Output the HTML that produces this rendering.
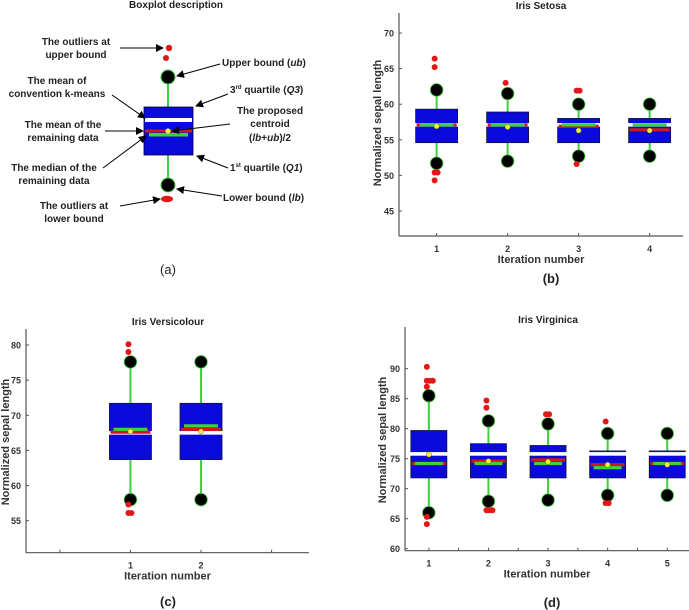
<!DOCTYPE html>
<html><head><meta charset="utf-8">
<style>
html,body{margin:0;padding:0;background:#fff;}
svg{display:block;font-family:"Liberation Sans",Arial,sans-serif;font-weight:bold;}
</style></head>
<body>
<svg id="fig" width="689" height="610" viewBox="0 0 689 610" xmlns="http://www.w3.org/2000/svg">
<defs>
<marker id="ah" markerWidth="8" markerHeight="8" refX="7" refY="4" orient="auto" markerUnits="userSpaceOnUse">
<path d="M0,0 L8,4 L0,8 z" fill="#000"/>
</marker>
</defs>
<g id="panel-a" font-size="10" fill="#222">
<text x="176" y="8" text-anchor="middle">Boxplot description</text>
<line x1="168" y1="77" x2="168" y2="185" stroke="#3ed13e" stroke-width="2"/>
<rect x="144" y="107" width="49" height="48" fill="#0a0adc" stroke="#002" stroke-width="0.8"/>
<rect x="145" y="118" width="47" height="4" fill="#fff"/>
<rect x="145" y="129.5" width="47" height="3" fill="#d01818"/>
<rect x="149" y="133" width="39" height="3.5" fill="#3ed13e"/>
<circle cx="168" cy="131" r="2.6" fill="#f5f03a"/>
<circle cx="168" cy="77" r="7" fill="#000" stroke="#3ed13e" stroke-width="1"/>
<circle cx="168" cy="185" r="7" fill="#000" stroke="#3ed13e" stroke-width="1"/>
<circle cx="169" cy="48" r="3.2" fill="#e01818"/>
<circle cx="166" cy="58" r="3" fill="#e01818"/>
<ellipse cx="167" cy="199" rx="6" ry="3.2" fill="#e01818"/>
<g stroke="#000" stroke-width="1" marker-end="url(#ah)">
<line x1="120" y1="48" x2="163" y2="48"/>
<line x1="220" y1="64" x2="177" y2="76"/>
<line x1="228" y1="94" x2="196" y2="106"/>
<line x1="230" y1="124" x2="172" y2="131"/>
<line x1="228" y1="168" x2="197" y2="156"/>
<line x1="222" y1="196" x2="177" y2="189"/>
<line x1="112" y1="95" x2="145" y2="118"/>
<line x1="105" y1="131" x2="143" y2="131"/>
<line x1="103" y1="168" x2="146" y2="136"/>
<line x1="120" y1="206" x2="160" y2="199"/>
</g>
<g text-anchor="middle">
<text x="76" y="45">The outliers at</text><text x="76" y="58">upper bound</text>
<text x="57" y="84">The mean of</text><text x="57" y="97">convention k-means</text>
<text x="63" y="128">The mean of the</text><text x="63" y="141">remaining data</text>
<text x="54" y="171">The median of the</text><text x="54" y="184">remaining data</text>
<text x="74" y="209">The outliers at</text><text x="74" y="222">lower bound</text>
<text x="270" y="114">The proposed</text><text x="270" y="127">centroid</text>
<text x="270" y="141">(<tspan font-style="italic">lb</tspan>+<tspan font-style="italic">ub</tspan>)/2</text>
</g>
<text x="222" y="66">Upper bound (<tspan font-style="italic">ub</tspan>)</text>
<text x="230" y="93">3<tspan font-size="6" dy="-4">rd</tspan><tspan dy="4"> quartile (</tspan><tspan font-style="italic">Q3</tspan>)</text>
<text x="230" y="171">1<tspan font-size="6" dy="-4">st</tspan><tspan dy="4"> quartile (</tspan><tspan font-style="italic">Q1</tspan>)</text>
<text x="223" y="201">Lower bound (<tspan font-style="italic">lb</tspan>)</text>
<text x="168" y="274" text-anchor="middle" font-size="13" font-weight="normal">(a)</text>
</g>
</svg>
<script>
// Panel (b) Iris Setosa
const bCategories = [1,2,3,4];
const bQ1 = [54.6,54.6,54.6,54.6];
const bQ3 = [59.3,58.9,58.0,58.0];
const bLB = [51.7,52.0,52.7,52.7];
const bUB = [62.0,61.5,60.0,60.0];
const bKmeans = [57.1,57.1,57.1,57.1];
const bMean = [57.1,57.1,56.9,56.4];
const bMedian = [57.1,57.1,57.1,57.1];
const bCentroid = [56.9,56.8,56.3,56.3];
const bOutliers = [[66.4,65.2,50.4,50.4,49.3],[63.0],[61.9,61.9,51.6],[]];
const bTicks = [45,50,55,60,65,70];
// Panel (c) Iris Versicolour
const cCategories = [1,2];
const cQ1 = [63.7,63.7];
const cQ3 = [71.7,71.7];
const cLB = [58.0,58.0];
const cUB = [77.6,77.6];
const cKmeans = [67.5,67.5];
const cMean = [67.6,68.0];
const cMedian = [68.0,68.5];
const cCentroid = [67.7,67.7];
const cOutliers = [[80.1,79.0,57.3,56.1,56.1],[]];
const cTicks = [55,60,65,70,75,80];
// Panel (d) Iris Virginica
const dCategories = [1,2,3,4,5];
const dQ1 = [71.8,71.8,71.8,71.8,71.8];
const dQ3 = [79.7,77.5,77.2,76.3,76.3];
const dLB = [66.0,67.9,68.1,68.9,68.9];
const dUB = [85.5,81.3,80.8,79.2,79.2];
const dKmeans = [75.8,75.8,75.8,75.8,75.8];
const dMean = [74.2,74.6,74.8,74.0,74.2];
const dMedian = [74.2,74.2,74.2,73.5,74.2];
const dCentroid = [75.7,74.6,74.5,74.0,74.0];
const dOutliers = [[90.3,88,88,88,87,65.3,64.1],[84.7,83.5,66.4,66.4,66.4],[82.4,82.4],[81.2,67.6,67.6],[]];
const dTicks = [60,65,70,75,80,85,90];

const NS = "http://www.w3.org/2000/svg";
const svg = document.getElementById('fig');
function mk(tag, attrs, parent){const e=document.createElementNS(NS,tag);for(const k in attrs)e.setAttribute(k,attrs[k]);parent.appendChild(e);return e;}

function panel(p){
  const g = mk('g',{},svg);
  
  
  const sx = v => p.x0 + (v - p.d0) / (p.d1 - p.d0) * (p.x1 - p.x0);
  const sy = v => p.yA + (v - p.vA) / (p.vB - p.vA) * (p.yB - p.yA);
  // axes
  const ya = mk('line',{x1:p.x0,y1:p.top,x2:p.x0,y2:p.bottom,stroke:'#555','stroke-width':1.2},g);
  
  
  const xa = mk('line',{x1:p.x0,y1:p.bottom,x2:p.x1,y2:p.bottom,stroke:'#555','stroke-width':1.2},g);
  
  
  p.ticks.forEach(t=>{
    mk('line',{x1:p.x0,y1:sy(t),x2:p.x0+3,y2:sy(t),stroke:'#555'},g);
    const tl = mk('text',{x:p.x0-5,y:sy(t)+3.5,'text-anchor':'end','font-size':9,fill:'#333'},g);
    tl.textContent = t;
    
    
  });
  p.xtickMinor.forEach(t=>mk('line',{x1:sx(t),y1:p.bottom,x2:sx(t),y2:p.bottom-3,stroke:'#555'},g));
  p.cats.forEach(c=>{
    mk('line',{x1:sx(c),y1:p.bottom,x2:sx(c),y2:p.bottom-3,stroke:'#555'},g);
    const tl = mk('text',{x:sx(c),y:p.bottom+16,'text-anchor':'middle','font-size':9,fill:'#333'},g);
    tl.textContent = c;
    
    
  });
  const w = p.bw;
  p.cats.forEach((c,i)=>{
    const cx = sx(c);
    const bg = mk('g',{},g);
    
    
    mk('line',{x1:cx,y1:sy(p.ub[i]),x2:cx,y2:sy(p.lb[i]),stroke:'#3ed13e','stroke-width':2},bg);
    mk('rect',{x:cx-w/2,y:sy(p.q3[i]),width:w,height:sy(p.q1[i])-sy(p.q3[i]),fill:'#0a0adc',stroke:'#113','stroke-width':0.8},bg);
    mk('rect',{x:cx-w/2-1,y:sy(p.km[i])-1.8,width:w+2,height:3.6,fill:'#fff'},bg);
    mk('rect',{x:cx-w/2+1,y:sy(p.mean[i])-1.6,width:w-2,height:3.2,fill:'#d01818'},bg);
    mk('rect',{x:cx-w/2+4,y:sy(p.med[i])-1.6,width:w-8,height:3.2,fill:'#3ed13e'},bg);
    mk('circle',{cx:cx,cy:sy(p.cen[i]),r:2.6,fill:'#f5f03a',stroke:'#553','stroke-width':0.4},bg);
    mk('circle',{cx:cx,cy:sy(p.ub[i]),r:6.3,fill:'#000',stroke:'#3ed13e','stroke-width':0.8},bg);
    mk('circle',{cx:cx,cy:sy(p.lb[i]),r:6.3,fill:'#000',stroke:'#3ed13e','stroke-width':0.8},bg);
    const seen = {};
    p.out[i].forEach(v=>{
      const k = v.toFixed(1); seen[k]=(seen[k]||0)+1;
      const off = (seen[k]-1)*3 - 2;
      const o = mk('circle',{cx:cx+off,cy:sy(v),r:3,fill:'#e01818'},bg);
      
      
    });
  });
  const tt = mk('text',{x:p.tx,y:p.ty,'text-anchor':'middle','font-size':10,fill:'#222'},g);
  tt.textContent = p.title;
  
  
  const xl = mk('text',{x:(p.x0+p.x1)/2+p.xlOff,y:p.bottom+27,'text-anchor':'middle','font-size':11,fill:'#333'},g);
  xl.textContent = 'Iteration number';
  
  
  const yl = mk('text',{x:0,y:0,'text-anchor':'middle','font-size':11,fill:'#333',transform:`translate(${p.ylx},${p.yly}) rotate(-90)`},g);
  yl.textContent = 'Normalized sepal length';
  
  
  const lab = mk('text',{x:p.lx,y:p.ly,'text-anchor':'middle','font-size':13,fill:'#222'},g);
  lab.textContent = p.label;
  
  
}

panel({name:'panel-b-iris-setosa',cats:bCategories,q1:bQ1,q3:bQ3,lb:bLB,ub:bUB,km:bKmeans,mean:bMean,med:bMedian,cen:bCentroid,out:bOutliers,ticks:bTicks,xtickMinor:[],
  x0:399,x1:683,d0:0.47,d1:4.47,yA:33,vA:70,yB:211,vB:45,top:13,bottom:236,bw:42,
  title:'Iris Setosa',tx:541,ty:9,xlOff:0,ylx:381,yly:123,label:'(b)',lx:551,ly:283});
panel({name:'panel-c-iris-versicolour',cats:cCategories,q1:cQ1,q3:cQ3,lb:cLB,ub:cUB,km:cKmeans,mean:cMean,med:cMedian,cen:cCentroid,out:cOutliers,ticks:cTicks,xtickMinor:[0,3],
  x0:26,x1:309,d0:-0.48,d1:3.53,yA:345,vA:80,yB:520.7,vB:55,top:329,bottom:552.7,bw:42,
  title:'Iris Versicolour',tx:168,ty:325,xlOff:0,ylx:9,yly:442,label:'(c)',lx:168,ly:606});
panel({name:'panel-d-iris-virginica',cats:dCategories,q1:dQ1,q3:dQ3,lb:dLB,ub:dUB,km:dKmeans,mean:dMean,med:dMedian,cen:dCentroid,out:dOutliers,ticks:dTicks,xtickMinor:[1.5,2.5,3.5,4.5],
  x0:405,x1:689,d0:0.6,d1:5.365,yA:368.7,vA:90,yB:548.7,vB:60,top:327,bottom:550.7,bw:36,
  title:'Iris Virginica',tx:548,ty:323,xlOff:0,ylx:386,yly:440,label:'(d)',lx:552,ly:607});
</script>
</body></html>
